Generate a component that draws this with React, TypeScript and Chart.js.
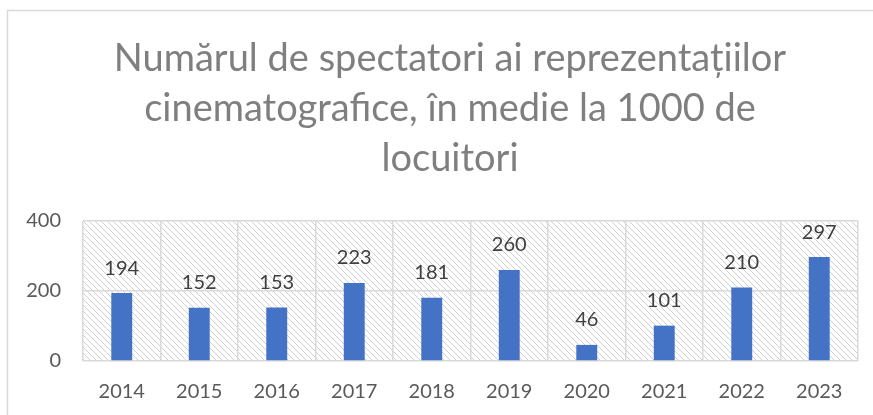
import React, { useEffect, useRef } from "react";
import { Chart, registerables } from "chart.js";

Chart.register(...registerables);

const years = ["2014", "2015", "2016", "2017", "2018", "2019", "2020", "2021", "2022", "2023"];
const spectators = [194, 152, 153, 223, 181, 260, 46, 101, 210, 297];
const yTicks = [0, 200, 400];
const titleLines = [
  "Numărul de spectatori ai reprezentațiilor",
  "cinematografice, în medie la 1000 de",
  "locuitori",
];

const FONT = "Lato, 'Open Sans', sans-serif";

export default function App() {
  const ref = useRef<HTMLCanvasElement | null>(null);

  useEffect(() => {
    const canvas = ref.current;
    if (!canvas) return;

    const frame = {
      id: "frame",
      beforeDraw(chart: any) {
        const { ctx, chartArea } = chart;
        ctx.save();
        // outer container border
        ctx.strokeStyle = "#d9d9d9";
        ctx.lineWidth = 1.5;
        ctx.beginPath();
        ctx.moveTo(7.5, 415);
        ctx.lineTo(7.5, 10.5);
        ctx.lineTo(873, 10.5);
        ctx.stroke();
        // hatched plot background
        const tile = document.createElement("canvas");
        tile.width = 6;
        tile.height = 6;
        const t = tile.getContext("2d")!;
        t.strokeStyle = "#cfcfcf";
        t.lineWidth = 1;
        t.beginPath();
        t.moveTo(-1, -1);
        t.lineTo(7, 7);
        t.moveTo(-1, 5);
        t.lineTo(1, 7);
        t.moveTo(5, -1);
        t.lineTo(7, 1);
        t.stroke();
        const pat = ctx.createPattern(tile, "repeat");
        if (pat) {
          ctx.fillStyle = pat;
          ctx.fillRect(chartArea.left, chartArea.top, chartArea.right - chartArea.left, chartArea.bottom - chartArea.top);
        }
        // title
        ctx.fillStyle = "#7f7f7f";
        ctx.font = `38px ${FONT}`;
        ctx.textAlign = "center";
        ctx.textBaseline = "alphabetic";
        const baselines = [71, 121, 171];
        titleLines.forEach((line, i) => ctx.fillText(line, 450, baselines[i]));
        ctx.restore();
      },
    };

    const labels = {
      id: "valueLabels",
      afterDatasetsDraw(chart: any) {
        const { ctx } = chart;
        const meta = chart.getDatasetMeta(0);
        ctx.save();
        ctx.fillStyle = "#404040";
        ctx.font = `20px ${FONT}`;
        ctx.textAlign = "center";
        ctx.textBaseline = "middle";
        meta.data.forEach((bar: any, i: number) => {
          ctx.fillText(String(spectators[i]), bar.x, bar.y - 25);
        });
        ctx.restore();
      },
    };

    const chart = new Chart(canvas, {
      type: "bar",
      data: {
        labels: years,
        datasets: [
          {
            data: spectators,
            backgroundColor: "#4472c4",
            borderWidth: 0,
            barPercentage: 0.27,
            categoryPercentage: 1,
          },
        ],
      },
      options: {
        animation: false,
        responsive: false,
        devicePixelRatio: 1,
        layout: { padding: { top: 221, right: 15, left: 0, bottom: 0 } },
        plugins: {
          legend: { display: false },
          title: { display: false },
          tooltip: { enabled: false },
        },
        scales: {
          x: {
            offset: true,
            grid: { display: true, offset: true, color: "#d9d9d9", lineWidth: 1.5, drawTicks: false },
            border: { display: false },
            ticks: { color: "#595959", font: { family: FONT, size: 20 }, padding: 19 },
            afterFit(scale: any) {
              scale.height = 54;
            },
          },
          y: {
            min: 0,
            max: 400,
            afterBuildTicks(scale: any) {
              scale.ticks = yTicks.map((v) => ({ value: v }));
            },
            grid: { color: "#d9d9d9", lineWidth: 1.5, drawTicks: false },
            border: { display: false },
            ticks: { color: "#595959", font: { family: FONT, size: 20 }, padding: 22 },
            afterFit(scale: any) {
              scale.width = 83;
            },
          },
        },
      },
      plugins: [frame, labels],
    });

    return () => chart.destroy();
  }, []);

  return (
    <div style={{ position: "absolute", left: 0, top: 0, width: 873, height: 415, background: "#fff" }}>
      <canvas ref={ref} width={873} height={415} style={{ display: "block", width: 873, height: 415 }} />
    </div>
  );
}
